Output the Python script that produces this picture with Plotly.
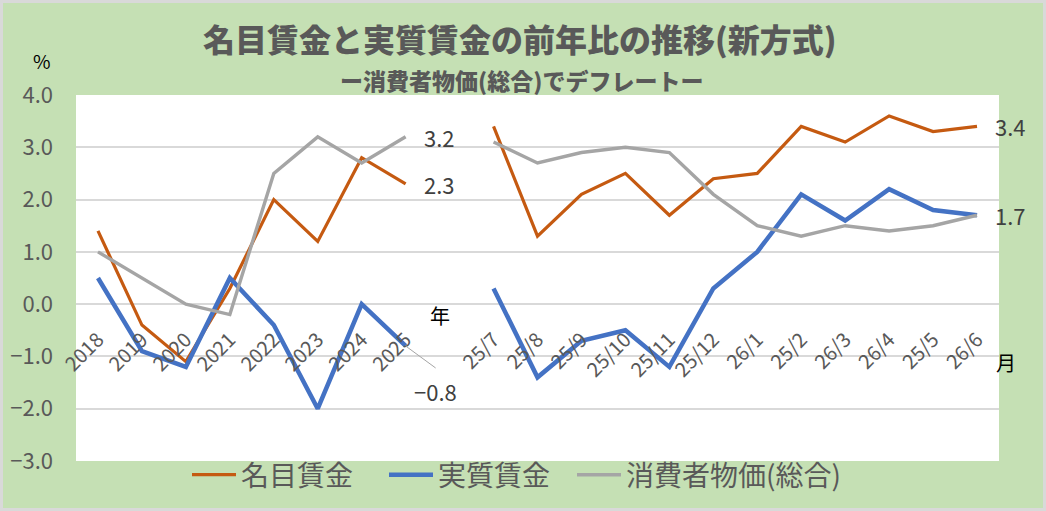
import plotly.graph_objs as go

# categories
years = ["2018", "2019", "2020", "2021", "2022", "2023", "2024", "2025"]
months = ["25/7", "25/8", "25/9", "25/10", "25/11", "25/12",
          "26/1", "25/2", "26/3", "26/4", "25/5", "26/6"]

# 名目賃金
nominal_year = [1.4, -0.4, -1.1, 0.3, 2.0, 1.2, 2.8, 2.3]
nominal_month = [3.4, 1.3, 2.1, 2.5, 1.7, 2.4, 2.5, 3.4, 3.1, 3.6, 3.3, 3.4]

# 実質賃金
real_year = [0.5, -0.9, -1.2, 0.5, -0.4, -2.0, 0.0, -0.8]
real_month = [0.3, -1.4, -0.7, -0.5, -1.2, 0.3, 1.0, 2.1, 1.6, 2.2, 1.8, 1.7]

# 消費者物価(総合)
cpi_year = [1.0, 0.5, 0.0, -0.2, 2.5, 3.2, 2.7, 3.2]
cpi_month = [3.1, 2.7, 2.9, 3.0, 2.9, 2.1, 1.5, 1.3, 1.5, 1.4, 1.5, 1.7]

gap = " "
x_all = years + [gap] + months
# category indices (numeric-looking names like "2025" would be read as indices)
i_year_end = x_all.index(years[-1])
i_month_end = x_all.index(months[-1])

W, H = 1046, 511
ML, MR, MT, MB = 76, 47, 95, 50
PW, PH = W - ML - MR, H - MT - MB

FONT = "Noto Sans CJK JP"
TXT = "#595959"


def px(x, y):
    # pixel position -> paper coords
    return (x - ML) / PW, (H - MB - y) / PH


fig = go.Figure()

# name, yearly, monthly, colour, width, legend id, legend left edge (px)
series = [
    ("名目賃金", nominal_year, nominal_month, "#C55A11", 3.2, "legend", 187),
    ("実質賃金", real_year, real_month, "#4472C4", 4.5, "legend2", 384),
    ("消費者物価(総合)", cpi_year, cpi_month, "#A5A5A5", 3.4, "legend3", 572),
]

legends = {}
for name, y_yr, y_mo, color, width, leg, left in series:
    fig.add_trace(go.Scatter(
        x=x_all,
        y=y_yr + [None] + y_mo,
        mode="lines",
        name=name,
        legend=leg,
        connectgaps=False,
        line=dict(color=color, width=width),
    ))
    lx, ly = px(left, 475)
    legends[leg] = dict(
        orientation="h", xanchor="left", x=lx,
        yanchor="middle", y=ly,
        font=dict(family=FONT, size=28, color=TXT),
        bgcolor="rgba(0,0,0,0)",
        itemwidth=44,
    )

# data labels
labels = [
    (i_year_end, cpi_year[-1]),
    (i_year_end, nominal_year[-1]),
    (i_month_end, nominal_month[-1]),
    (i_month_end, real_month[-1]),
]
for xv, yv in labels:
    fig.add_annotation(
        x=xv, y=yv, text=f"{yv:.1f}", showarrow=False,
        xanchor="left", yanchor="middle", xshift=16,
        font=dict(family=FONT, size=22, color="#404040"),
    )

# -0.8 with leader line
fig.add_shape(
    type="line", xref="x", yref="y",
    xsizemode="pixel", ysizemode="pixel",
    xanchor=i_year_end, yanchor=real_year[-1],
    x0=0, x1=30, y0=0, y1=-22,
    line=dict(color="#A5A5A5", width=1),
)
fig.add_annotation(
    x=i_year_end, y=real_year[-1], text=f"\u2212{abs(real_year[-1]):.1f}",
    showarrow=False, xanchor="center", yanchor="middle",
    xshift=30, yshift=-45,
    font=dict(family=FONT, size=22, color="#404040"),
)


def label(x, y, text, size, color, weight="normal"):
    xp, yp = px(x, y)
    fig.add_annotation(
        xref="paper", yref="paper", x=xp, y=yp,
        xanchor="center", yanchor="middle",
        text=text, showarrow=False,
        font=dict(family=FONT, size=size, color=color, weight=weight),
    )


# axis unit labels
label(42, 60, "%", 19, "black")
label(440, 315, "年", 20, "black")
label(1006, 362, "月", 20, "black")

# title / subtitle
label(520, 38, "名目賃金と実質賃金の前年比の推移(新方式)", 32, TXT, weight=900)
label(521, 80, "ー消費者物価(総合)でデフレートー", 23, TXT, weight=900)

# outer frame
fig.add_shape(type="rect", xref="paper", yref="paper",
              x0=(-ML + 1.5) / PW, x1=1 + (MR - 1.5) / PW,
              y0=(-MB + 1.5) / PH, y1=1 + (MT - 1.5) / PH,
              line=dict(color="#D9D9D9", width=3))

fig.update_layout(
    width=W, height=H,
    margin=dict(l=ML, r=MR, t=MT, b=MB, autoexpand=False),
    paper_bgcolor="#C5E0B4",
    plot_bgcolor="white",
    font=dict(family=FONT, color=TXT),
    showlegend=True,
    **legends,
)

fig.update_xaxes(
    type="category",
    categoryorder="array", categoryarray=x_all,
    range=[-0.5, len(x_all) - 0.5],
    anchor="free", position=3 / 7,
    showgrid=False, showline=False, zeroline=False,
    automargin=False,
    ticks="outside", ticklen=15, tickcolor="rgba(0,0,0,0)",
    tickangle=-45,
    tickfont=dict(family=FONT, size=20, color=TXT),
)

fig.update_yaxes(
    range=[-3, 4],
    tickvals=[-3, -2, -1, 0, 1, 2, 3, 4],
    tickformat=".1f",
    showgrid=True, gridcolor="#D9D9D9", gridwidth=1.5,
    zeroline=False, showline=False,
    automargin=False,
    ticklabelstandoff=22,
    tickfont=dict(family=FONT, size=22, color=TXT),
)

fig.write_html("out.html", config={"displayModeBar": False},
               post_script="document.body.style.margin='0px';")
